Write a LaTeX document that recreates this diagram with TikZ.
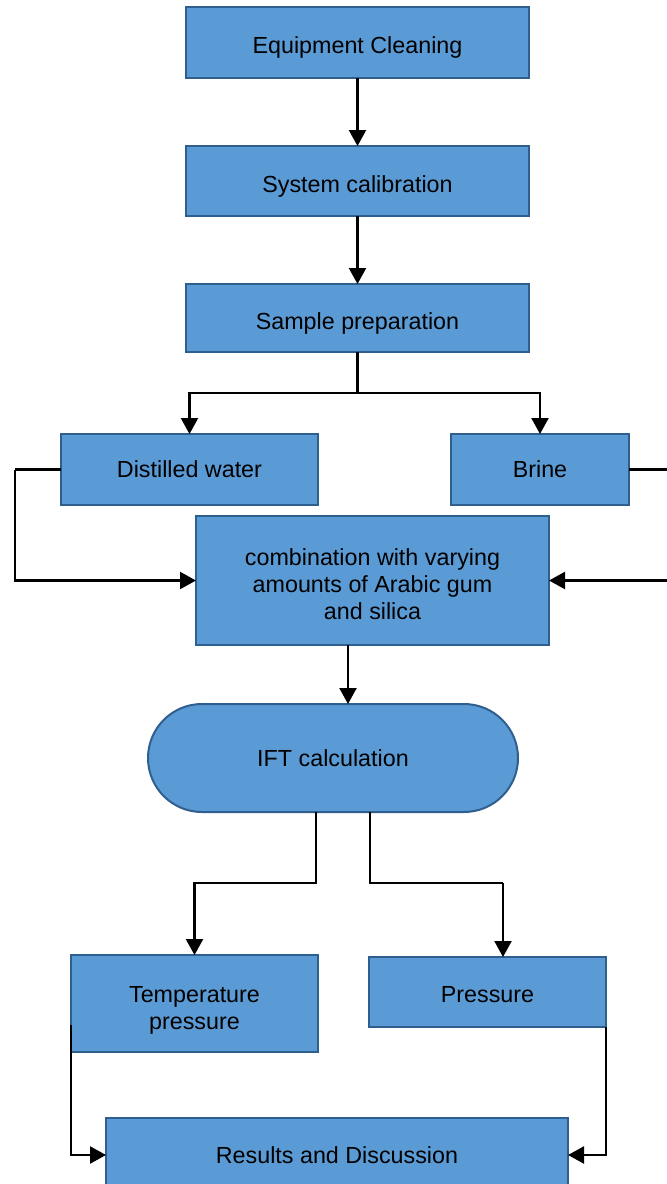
\documentclass[tikz,border=0pt]{standalone}
\usepackage{fontspec}
\setmainfont{Liberation Sans}
\usetikzlibrary{arrows.meta,calc}
\definecolor{boxfill}{HTML}{5B9BD5}
\definecolor{boxline}{HTML}{2F5F8F}
\newcommand\lowr[1]{\rule{0pt}{#1}}
\begin{document}
\begin{tikzpicture}[x=1pt,y=-1pt,
  stepbox/.style={draw=boxline,fill=boxfill,line width=2pt,rectangle,inner sep=0pt,outer sep=0pt,align=center,
    font=\fontsize{23.3}{27}\selectfont},
  arr/.style={draw=black,line width=2.2pt,-{Triangle[length=16pt,width=17pt]}},
  ln/.style={draw=black,line width=2.2pt}]
\useasboundingbox (0,0) rectangle (667,1184);
\node[stepbox,minimum width=343pt,minimum height=71pt] (ec) at (357.5,42.5) {\lowr{27pt}Equipment Cleaning};
\node[stepbox,minimum width=343pt,minimum height=70pt] (sc) at (357.5,181) {\lowr{27pt}System calibration};
\node[stepbox,minimum width=343pt,minimum height=68pt] (sp) at (357.5,318) {\lowr{27pt}Sample preparation};
\node[stepbox,minimum width=257pt,minimum height=71pt] (dw) at (189.5,469.5) {Distilled water};
\node[stepbox,minimum width=178pt,minimum height=71pt] (br) at (540,469.5) {Brine};
\node[stepbox,minimum width=353pt,minimum height=129pt] (cb) at (372.5,580.5) {\lowr{25pt}combination with varying\\amounts of Arabic gum\\and silica};
\node[stepbox,minimum width=370pt,minimum height=108pt,rounded corners=54pt] (ift) at (333,758) {IFT calculation};
\node[stepbox,minimum width=247pt,minimum height=97pt] (tp) at (194.5,1003.5) {\lowr{29pt}Temperature\\pressure};
\node[stepbox,minimum width=237pt,minimum height=70pt] (pr) at (487.5,992) {\lowr{21pt}Pressure};
\node[stepbox,minimum width=462pt,minimum height=74pt] (rd) at (337,1155) {Results and Discussion};

\coordinate (s1) at (357.5,393);
\coordinate (lft) at (15,469.5);
\coordinate (rgt) at (685,469.5);
\coordinate (ax) at (348,0);
\coordinate (b1) at (316,883);
\coordinate (b2) at (370,883);
\coordinate (b3) at (503,883);
\coordinate (c1) at (71,1025);

\draw[arr] (ec) -- (sc);
\draw[arr] (sc) -- (sp);
\draw[ln] (sp.south) -- (s1);
\draw[arr] (s1) -| (dw.north);
\draw[arr] (s1) -| (br.north);
\draw[ln] (dw.west) -- (lft);
\draw[arr] (lft) |- (cb.west);
\draw[ln] (br.east) -- (rgt);
\draw[arr] (rgt) |- (cb.east);
\draw[arr] (cb.south -| ax) -- (ift.north -| ax);
\draw[arr] (ift.south -| b1) -- (b1) -| (tp.north);
\draw[ln] (ift.south -| b2) -- (b2) -- (b3);
\draw[arr] (b3) -- (b3 |- pr.north);
\draw[arr] (c1) |- (rd.west);
\draw[arr] (pr.south east) |- (rd.east);
\end{tikzpicture}
\end{document}
